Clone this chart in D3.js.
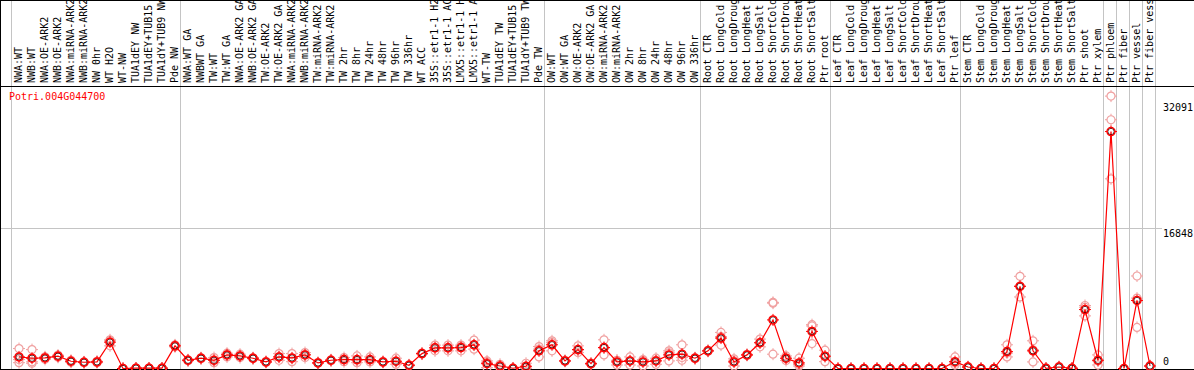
<!DOCTYPE html>
<html>
<head>
<meta charset="utf-8">
<script src="https://cdn.jsdelivr.net/npm/d3@7"></script>
<style>
  body { margin: 0; background: #fff; }
  text { font-family: "DejaVu Sans Mono", monospace; font-size: 10px; }
</style>
</head>
<body>
<div id="vis"></div>
<script>
//Sample names (truncated the way the original tool shows them)
var samples = ["NWA:WT", "NWB:WT", "NWA:OE-ARK2", "NWB:OE-ARK2", "NWA:miRNA-ARK2", "NWB:miRNA-ARK2",
  "NW 0hr", "WT H2O", "WT-NW", "TUA1dEY NW", "TUA1dEY+TUB15", "TUA1dY+TUB9 NW", "Pde NW",
  "NWA:WT GA", "NWBWT GA", "TW:WT", "TW:WT GA", "NWA:OE-ARK2 GA", "NWB:OE-ARK2 GA", "TW:OE-ARK2",
  "TW:OE-ARK2 GA", "NWA:miRNA-ARK2", "NWB:miRNA-ARK2", "TW:miRNA-ARK2", "TW:miRNA-ARK2",
  "TW 2hr", "TW 8hr", "TW 24hr", "TW 48hr", "TW 96hr", "TW 336hr", "WT ACC",
  "35S::etr1-1 H2", "35S::etr1-1 AC", "LMX5::etr1-1 H", "LMX5::etr1-1 A", "WT-TW",
  "TUA1dEY TW", "TUA1dEY+TUB15", "TUA1dY+TUB9 TW", "Pde TW",
  "OW:WT", "OW:WT GA", "OW:OE-ARK2", "OW:OE-ARK2 GA", "OW:miRNA-ARK2", "OW:miRNA-ARK2",
  "OW 2hr", "OW 8hr", "OW 24hr", "OW 48hr", "OW 96hr", "OW 336hr",
  "Root CTR", "Root LongCold", "Root LongDroug", "Root LongHeat", "Root LongSalt",
  "Root ShortCold", "Root ShortDrou", "Root ShortHeat", "Root ShortSalt", "Ptr root",
  "Leaf CTR", "Leaf LongCold", "Leaf LongDroug", "Leaf LongHeat", "Leaf LongSalt",
  "Leaf ShortCold", "Leaf ShortDrou", "Leaf ShortHeat", "Leaf ShortSalt", "Ptr leaf",
  "Stem CTR", "Stem LongCold", "Stem LongDroug", "Stem LongHeat", "Stem LongSalt",
  "Stem ShortCold", "Stem ShortDrou", "Stem ShortHeat", "Stem ShortSalt", "Ptr shoot",
  "Ptr xylem", "Ptr phloem", "Ptr fiber", "Ptr vessel", "Ptr fiber vess"];

//Index of the first sample of each group (gray separators)
var groupStarts = [0, 13, 41, 53, 63, 73, 84, 85, 86, 87, 88];

//Mean expression per sample
var means = [1390, 1235, 1270, 1480, 870, 750, 790, 3170, 0, 40, 40, 40, 2720,
  990, 1235, 990, 1635, 1510, 1235, 790, 1390, 1270, 1635, 670, 990, 1070, 1070, 1070,
  790, 870, 390, 1790, 2480, 2480, 2520, 2850, 580, 300, 30, 270, 2120,
  2850, 910, 2280, 580, 2520, 790, 910, 790, 910, 1635, 1720, 1235,
  2120, 3660, 790, 1635, 3090, 5840, 1235, 670, 4460, 1480,
  0, 0, 0, 0, 0, 0, 0, 0, 0, 820,
  180, 0, 0, 2030, 9870, 2120, 25, 180, 25, 7085, 990,
  28480, 0, 8175, 300];

//Replicates
var rep1 = [2400, 2270, 1410, 1610, 990, 800, 870, 3450, 0, 40, 40, 40, 2840,
  1050, 1300, 1310, 1840, 1720, 1300, 850, 1790, 1790, 1910, 720, 1050, 1310, 1510, 1390,
  850, 1235, 450, 1850, 2810, 2810, 2810, 3415, 910, 510, 60, 630, 2640,
  3330, 970, 2720, 640, 3450, 990, 1390, 1080, 1235, 2120, 2850, 1300,
  2180, 4335, 1160, 1700, 3535, 7950, 1510, 1235, 5270, 2200,
  0, 0, 0, 0, 0, 0, 0, 0, 0, 1390,
  240, 0, 0, 2850, 11080, 3330, 50, 240, 50, 7570, 1635,
  32740, 0, 11120, 360];
var rep2 = [700, 630, 1100, 1350, 750, 700, 700, 2720, 0, 40, 40, 40, 2600,
  930, 1170, 700, 1390, 1310, 1170, 730, 990, 820, 1310, 620, 930, 820, 700, 790,
  730, 510, 330, 1730, 2120, 2120, 2120, 2325, 100, 100, 0, 0, 1390,
  2120, 850, 1910, 520, 1635, 420, 420, 300, 510, 910, 990, 1170,
  2060, 2810, 300, 1570, 2600, 1720, 960, 300, 3000, 820,
  0, 0, 0, 0, 0, 0, 0, 0, 0, 420,
  120, 0, 0, 1390, 8600, 790, 0, 120, 0, 6325, 420,
  22800, 0, 4940, 240];
var rep3 = [1070, 805, 1300, 1480, 870, 750, 800, 3340, 0, 40, 40, 40, 2720,
  990, 1235, 960, 1675, 1500, 1235, 790, 1390, 1200, 1685, 670, 990, 1080, 1000, 1030,
  790, 865, 390, 1790, 2510, 2510, 2630, 2810, 730, 290, 30, 180, 2330,
  3100, 910, 2210, 580, 2475, 960, 920, 990, 985, 1875, 1320, 1235,
  2120, 3835, 910, 1635, 3135, 7850, 1235, 475, 5110, 1420,
  0, 0, 0, 0, 0, 0, 0, 0, 0, 650,
  180, 0, 0, 1850, 9930, 2240, 25, 180, 25, 7360, 915,
  29900, 0, 8465, 300];

//Axis labels on the right
var yTicks = [0, 16848, 32091];
var geneName = "Potri.004G044700";

var width = 1194, height = 370;
var headerBottom = 86;

var svg = d3.select("#vis").append("svg")
            .attr("width", width)
            .attr("height", height);

//Column scale: each sample gets a 13px band
var x = d3.scaleBand()
          .domain(d3.range(samples.length + 1))
          .range([11, 11 + 13 * (samples.length + 1)]);
var y = d3.scaleLinear()
          .domain([0, 32091])
          .range([368.5, 101.5]);
var cx = function(i){ return x(i) + 8; };

//Horizontal gridline at the middle tick
svg.append("line")
   .attr("x1", 0).attr("x2", 1162)
   .attr("y1", Math.round(y(yTicks[1])) + 0.5).attr("y2", Math.round(y(yTicks[1])) + 0.5)
   .attr("stroke", "#c4c4c4");

//Group separators
svg.append("g").selectAll("line")
   .data(groupStarts)
   .enter()
   .append("line")
   .attr("x1", function(d){ return x(d) + 0.5; })
   .attr("x2", function(d){ return x(d) + 0.5; })
   .attr("y1", 0).attr("y2", height)
   .attr("stroke", "#c4c4c4");

//Frame lines
svg.append("line").attr("x1", 0).attr("x2", width).attr("y1", 0.5).attr("y2", 0.5).attr("stroke", "#000");
svg.append("line").attr("x1", 0).attr("x2", width).attr("y1", headerBottom + 0.5).attr("y2", headerBottom + 0.5).attr("stroke", "#000");
svg.append("line").attr("x1", 0).attr("x2", width).attr("y1", 369.5).attr("y2", 369.5).attr("stroke", "#000");
svg.append("line").attr("x1", 0.5).attr("x2", 0.5).attr("y1", 0).attr("y2", height).attr("stroke", "#000");

//Sample labels, rotated
svg.append("g").selectAll("text")
   .data(samples)
   .enter()
   .append("text")
   .attr("transform", function(d, i){ return "translate(" + (x(i) + 11) + ",83) rotate(-90)"; })
   .text(function(d){ return d; });

//Y labels
svg.append("g").selectAll("text")
   .data(yTicks)
   .enter()
   .append("text")
   .attr("x", 1163)
   .attr("y", function(d){ return d === 0 ? 365 : y(d) + 9; })
   .text(function(d){ return d; });

//Gene name
svg.append("text")
   .attr("x", 9).attr("y", 100)
   .attr("fill", "#f00")
   .text(geneName);

//Marker: circle with small ticks
function marker(g, color, w){
  g.append("circle").attr("r", 4).attr("fill", "none").attr("stroke", color).attr("stroke-width", w);
  g.append("path")
   .attr("d", "M0,-6V-4M0,4V6M-6,0H-4M4,0H6")
   .attr("stroke", color).attr("stroke-width", 1);
}

//Replicates
var reps = [];
samples.forEach(function(s, i){
  [rep1[i], rep2[i], rep3[i]].forEach(function(v){ reps.push({i: i, v: v}); });
});
svg.append("g").selectAll("g")
   .data(reps)
   .enter()
   .append("g")
   .attr("transform", function(d){ return "translate(" + cx(d.i) + "," + y(d.v) + ")"; })
   .each(function(){ marker(d3.select(this), "#f0a0a0", 1.2); });

//Mean line
var line = d3.line()
             .x(function(d, i){ return cx(i); })
             .y(function(d){ return y(d); });
svg.append("path")
   .datum(means)
   .attr("d", line)
   .attr("fill", "none")
   .attr("stroke", "#f00")
   .attr("stroke-width", 1.2);

//Mean markers
svg.append("g").selectAll("g")
   .data(means)
   .enter()
   .append("g")
   .attr("transform", function(d, i){ return "translate(" + cx(i) + "," + y(d) + ")"; })
   .each(function(){
     var g = d3.select(this);
     g.append("circle").attr("r", 3.2).attr("fill", "none").attr("stroke", "#000").attr("stroke-width", 0.8);
     marker(g, "#f00", 1.5);
   });
</script>
</body>
</html>
